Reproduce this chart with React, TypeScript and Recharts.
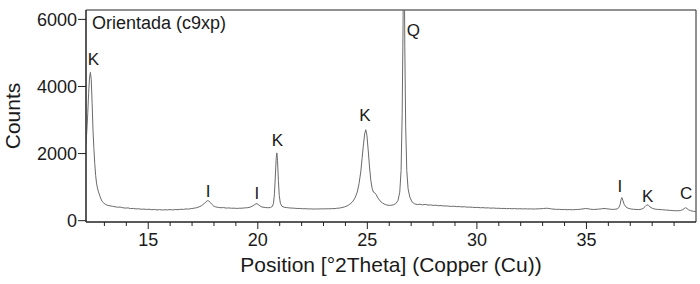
import { ComposedChart, Line, XAxis, YAxis, ReferenceDot, ReferenceArea, Label } from "recharts";

const font = '"Liberation Sans", Arial, Helvetica, sans-serif';
const axisColor = "#222";
const textColor = "#1a1a1a";

const title = "Orientada (c9xp)";
const xTicks = [13, 14, 15, 16, 17, 18, 19, 20, 21, 22, 23, 24, 25, 26, 27, 28, 29, 30, 31, 32, 33, 34, 35, 36, 37, 38, 39];
const yTicks = [0, 2000, 4000, 6000];

// peak marks: K = kaolinite, Q = quartz, I = illite, C
const peakLabels = [
  { phase: "K", pos: 12.5, counts: 4820 },
  { phase: "I", pos: 17.73, counts: 893 },
  { phase: "I", pos: 19.96, counts: 818 },
  { phase: "K", pos: 20.9, counts: 2410 },
  { phase: "K", pos: 24.89, counts: 3140 },
  { phase: "Q", pos: 27.1, counts: 5684 },
  { phase: "I", pos: 36.52, counts: 1027 },
  { phase: "K", pos: 37.8, counts: 744 },
  { phase: "C", pos: 39.55, counts: 833 },
];

// [°2Theta, counts]
const pattern: [number, number][] = [
  [12.16, 2300], [12.2, 2700], [12.24, 3200], [12.28, 3800], [12.32, 4250], [12.36, 4420],
  [12.4, 4200], [12.44, 3500], [12.48, 2700], [12.52, 2150], [12.56, 1700], [12.6, 1350],
  [12.64, 1120], [12.68, 980], [12.72, 880], [12.78, 760], [12.84, 650], [12.9, 570],
  [12.98, 520], [13.06, 480], [13.16, 455], [13.26, 440], [13.36, 430], [13.48, 415],
  [13.6, 400], [13.72, 405], [13.84, 385], [13.96, 375], [14.08, 380], [14.2, 360],
  [14.32, 365], [14.44, 350], [14.56, 355], [14.68, 340], [14.8, 345], [14.92, 335],
  [15.04, 340], [15.16, 325], [15.28, 335], [15.4, 320], [15.52, 330], [15.64, 318],
  [15.76, 325], [15.88, 322], [16.0, 330], [16.12, 320], [16.24, 332], [16.36, 328],
  [16.48, 340], [16.6, 335], [16.72, 350], [16.84, 345], [16.96, 360], [17.08, 370],
  [17.2, 385], [17.32, 410], [17.44, 450], [17.54, 500], [17.62, 555], [17.7, 595],
  [17.76, 590], [17.82, 550], [17.9, 490], [17.98, 440], [18.08, 410], [18.2, 395],
  [18.32, 385], [18.44, 390], [18.56, 375], [18.68, 380], [18.8, 370], [18.92, 372],
  [19.04, 365], [19.16, 370], [19.28, 372], [19.4, 380], [19.52, 385], [19.64, 400],
  [19.74, 430], [19.84, 470], [19.92, 505], [19.98, 500], [20.06, 460], [20.14, 420],
  [20.24, 400], [20.36, 390], [20.48, 385], [20.58, 395], [20.66, 420], [20.72, 520],
  [20.76, 800], [20.8, 1300], [20.84, 1850], [20.87, 2020], [20.9, 1800], [20.94, 1200],
  [20.98, 750], [21.03, 520], [21.1, 430], [21.2, 400], [21.32, 390], [21.44, 380],
  [21.56, 375], [21.68, 370], [21.8, 362], [21.92, 365], [22.04, 355], [22.16, 358],
  [22.28, 350], [22.4, 352], [22.52, 345], [22.64, 350], [22.76, 348], [22.88, 352],
  [23.0, 350], [23.12, 355], [23.24, 352], [23.36, 360], [23.48, 358], [23.6, 368],
  [23.72, 375], [23.84, 390], [23.96, 410], [24.08, 440], [24.2, 490], [24.32, 560],
  [24.44, 680], [24.54, 850], [24.62, 1100], [24.7, 1450], [24.76, 1850], [24.82, 2250],
  [24.88, 2600], [24.93, 2710], [24.98, 2550], [25.04, 2100], [25.1, 1600], [25.16, 1200],
  [25.22, 960], [25.28, 850], [25.34, 830], [25.4, 780], [25.48, 680], [25.58, 590],
  [25.7, 520], [25.82, 480], [25.94, 460], [26.06, 455], [26.18, 470], [26.3, 510],
  [26.4, 600], [26.48, 850], [26.54, 1500], [26.59, 3200], [26.63, 5800], [26.67, 9500],
  [26.71, 5200], [26.75, 2800], [26.8, 1500], [26.86, 950], [26.94, 700], [27.04, 560],
  [27.16, 500], [27.28, 480], [27.4, 490], [27.52, 470], [27.64, 485], [27.76, 465],
  [27.88, 470], [28.0, 455], [28.12, 460], [28.24, 445], [28.36, 450], [28.48, 438],
  [28.6, 440], [28.72, 430], [28.84, 425], [28.96, 430], [29.08, 418], [29.2, 420],
  [29.32, 410], [29.44, 415], [29.56, 402], [29.68, 405], [29.8, 398], [29.92, 392],
  [30.04, 395], [30.16, 385], [30.28, 388], [30.4, 380], [30.52, 382], [30.64, 372],
  [30.76, 378], [30.88, 368], [31.0, 370], [31.12, 362], [31.24, 366], [31.36, 358],
  [31.48, 362], [31.6, 355], [31.72, 360], [31.84, 352], [31.96, 356], [32.08, 350],
  [32.2, 355], [32.32, 348], [32.44, 352], [32.56, 346], [32.68, 350], [32.8, 352],
  [32.92, 356], [33.04, 362], [33.16, 370], [33.28, 364], [33.4, 350], [33.52, 342],
  [33.64, 336], [33.76, 338], [33.88, 330], [34.0, 334], [34.12, 326], [34.24, 330],
  [34.36, 325], [34.48, 330], [34.6, 334], [34.72, 340], [34.84, 350], [34.96, 362],
  [35.08, 355], [35.2, 340], [35.32, 334], [35.44, 338], [35.56, 345], [35.68, 352],
  [35.8, 362], [35.92, 356], [36.04, 345], [36.16, 336], [36.28, 338], [36.4, 350],
  [36.48, 390], [36.54, 490], [36.58, 630], [36.62, 685], [36.66, 610], [36.72, 490],
  [36.8, 410], [36.9, 370], [37.02, 350], [37.14, 340], [37.26, 334], [37.38, 330],
  [37.5, 340], [37.6, 370], [37.68, 420], [37.76, 472], [37.82, 462], [37.9, 410],
  [38.0, 370], [38.12, 345], [38.24, 336], [38.36, 330], [38.48, 325], [38.6, 318],
  [38.72, 312], [38.84, 305], [38.96, 300], [39.08, 296], [39.2, 295], [39.3, 305],
  [39.4, 330], [39.46, 360], [39.52, 385], [39.58, 365], [39.66, 325], [39.76, 295],
  [39.88, 280], [40.0, 272],
];

const data = pattern.map(([pos, counts]) => ({ pos, counts }));

const XTick = (props: any) => {
  const { x, y, payload } = props;
  const major = payload.value % 5 === 0;
  return (
    <g>
      <line x1={x} x2={x} y1={y} y2={y + (major ? 7 : 4)} stroke={axisColor} strokeWidth={1} />
      {major && (
        <text x={x} y={y + 11} dy="0.71em" textAnchor="middle" fontSize={18} fill={textColor} fontFamily={font}>
          {payload.value}
        </text>
      )}
    </g>
  );
};

export default function App() {
  return (
    <div style={{ position: "absolute", left: 0, top: 0, width: 700, height: 284, background: "#fff", fontFamily: font }}>
      <ComposedChart width={700} height={284} data={data} margin={{ top: 10, right: 4, bottom: 0, left: 0 }}>
        <XAxis
          dataKey="pos"
          type="number"
          domain={[12.16, 40]}
          allowDataOverflow
          ticks={xTicks}
          interval={0}
          tickLine={false}
          tickSize={0}
          tickMargin={0}
          tick={<XTick />}
          height={62}
          axisLine={{ stroke: axisColor }}
        >
          <Label
            value="Position [°2Theta] (Copper (Cu))"
            position="insideBottom"
            offset={12}
            style={{ fontSize: 21, fill: textColor, fontFamily: font }}
          />
        </XAxis>
        <YAxis
          type="number"
          domain={[-40, 6280]}
          allowDataOverflow
          ticks={yTicks}
          interval={0}
          width={86}
          tickSize={8}
          tickMargin={1}
          tickLine={{ stroke: axisColor }}
          axisLine={{ stroke: axisColor }}
          tick={{ fontSize: 18, fill: textColor, fontFamily: font }}
        >
          <Label
            value="Counts"
            angle={-90}
            position="insideLeft"
            offset={13}
            style={{ fontSize: 21, fill: textColor, fontFamily: font, textAnchor: "middle" }}
          />
        </YAxis>
        <ReferenceArea x1={12.16} x2={40} y1={-40} y2={6280} fill="none" stroke={axisColor} strokeWidth={1} ifOverflow="extendDomain" />
        <Line
          dataKey="counts"
          type="linear"
          stroke="#6a6a6a"
          strokeWidth={1}
          dot={false}
          isAnimationActive={false}
        />
        {peakLabels.map((p, i) => (
          <ReferenceDot
            key={i}
            x={p.pos}
            y={p.counts}
            r={0}
            fill="none"
            stroke="none"
            label={{ value: p.phase, position: "center", fontSize: 17, fill: textColor, fontFamily: font }}
          />
        ))}
      </ComposedChart>
      <div style={{ position: "absolute", left: 92, top: 14, fontSize: 18, lineHeight: "18px", color: textColor }}>
        {title}
      </div>
    </div>
  );
}
